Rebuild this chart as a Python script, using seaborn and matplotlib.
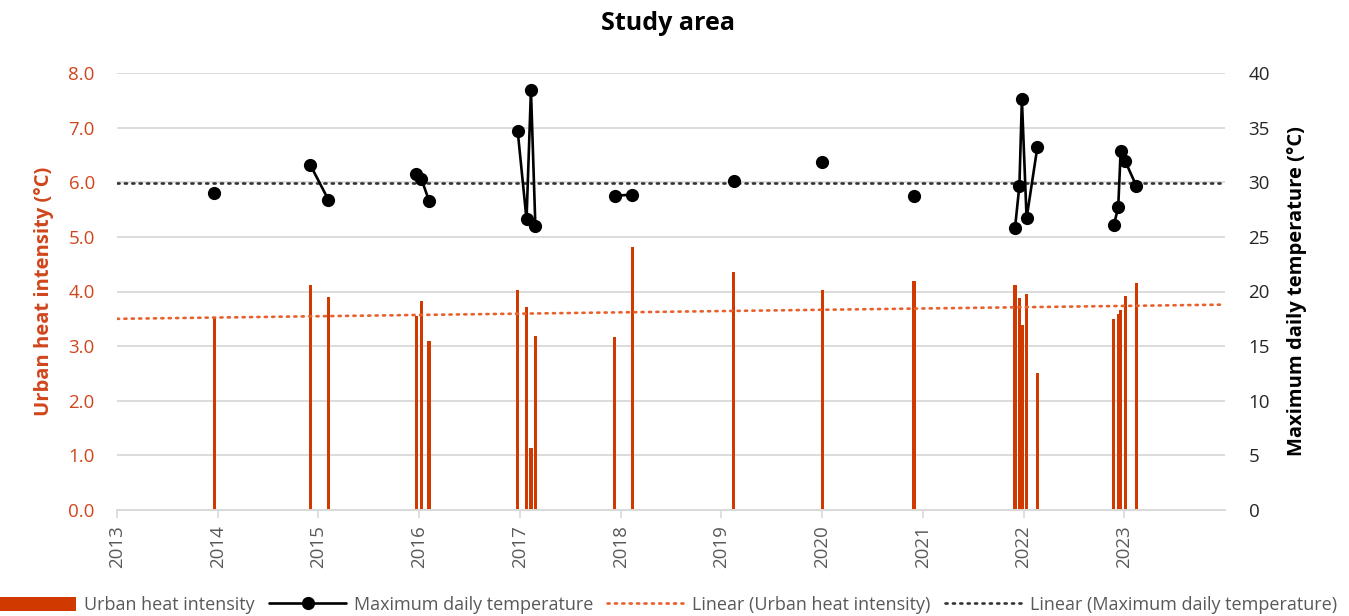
import numpy as np
import pandas as pd
import matplotlib
matplotlib.use("Agg")
import matplotlib.pyplot as plt
import seaborn as sns
from matplotlib.lines import Line2D
from matplotlib.patches import Patch

# ---------------- data ----------------
dates = ["2013-12-19",
         "2014-12-03", "2015-02-06",
         "2015-12-21", "2016-01-09", "2016-02-06",
         "2016-12-24", "2017-01-25", "2017-02-10", "2017-02-26",
         "2017-12-11", "2018-02-12",
         "2019-02-14",
         "2020-01-02",
         "2020-11-30",
         "2021-12-01", "2021-12-17", "2021-12-26", "2022-01-12", "2022-02-20",
         "2022-11-24", "2022-12-10", "2022-12-19", "2023-01-05", "2023-02-13"]
season = [2014, 2015, 2015, 2016, 2016, 2016, 2017, 2017, 2017, 2017,
          2018, 2018, 2019, 2020, 2021, 2022, 2022, 2022, 2022, 2022,
          2023, 2023, 2023, 2023, 2023]
uhi = [3.52, 4.11, 3.90, 3.56, 3.83, 3.10, 4.03, 3.71, 1.13, 3.18,
       3.16, 4.82, 4.35, 4.03, 4.19, 4.12, 3.89, 3.39, 3.96, 2.50,
       3.50, 3.58, 3.67, 3.92, 4.16]
tmax = [29.05, 31.56, 28.40, 30.76, 30.30, 28.30, 34.67, 26.60, 38.45, 26.00,
        28.77, 28.86, 30.13, 31.84, 28.78, 25.80, 29.70, 37.60, 26.70, 33.20,
        26.06, 27.70, 32.90, 31.90, 29.70]
# linear trend lines, at the start and end of the axis
trend_x = [2013, 2024]
trend_uhi = [3.50, 3.76]
trend_tmax = [29.9, 29.9]
year_ticks = list(range(2013, 2025))
left_ticks = [0, 1, 2, 3, 4, 5, 6, 7, 8]
right_ticks = [0, 5, 10, 15, 20, 25, 30, 35, 40]

title = "Study area"
left_label = "Urban heat intensity (°C)"
right_label = "Maximum daily temperature (°C)"
legend_labels = ["Urban heat intensity", "Maximum daily temperature",
                 "Linear (Urban heat intensity)", "Linear (Maximum daily temperature)"]

# ---------------- prep ----------------
dt = pd.to_datetime(pd.Series(dates))
days_in_year = np.where(dt.dt.is_leap_year, 366, 365)
xyear = dt.dt.year + (dt.dt.dayofyear - 1) / days_in_year
df = pd.DataFrame({"x": xyear, "season": season, "uhi": uhi, "tmax": tmax})
trend = pd.DataFrame({"x": trend_x, "uhi": trend_uhi, "tmax": trend_tmax})

ORANGE = "#D03A00"
ORANGE_TXT = "#D0461C"
ORANGE_TREND = "#E8602C"
GRID = "#D9D9D9"
DOT = (0, (0.8, 2.0))

sns.set_theme(style="white")
plt.rcParams["font.family"] = ["Open Sans", "DejaVu Sans"]

fig = plt.figure(figsize=(13.49, 6.16), dpi=100)
ax = fig.add_axes([117 / 1349, 1 - 510 / 616, (1225 - 117) / 1349, (510 - 73) / 616])
ax2 = ax.twinx()

# grid
ax.set_axisbelow(True)
ax.yaxis.grid(True, color=GRID, linewidth=1.3)
ax.xaxis.grid(False)

# bars
ax.bar(df["x"], df["uhi"], width=0.032, color=ORANGE, edgecolor="none",
       linewidth=0, align="center", zorder=2)

# UHI trend
sns.lineplot(data=trend, x="x", y="uhi", ax=ax, color=ORANGE_TREND, linewidth=1.9,
             linestyle=DOT, dash_capstyle="round", zorder=3, legend=False)

# temperature lines (connected within each season)
sns.lineplot(data=df, x="x", y="tmax", units="season", estimator=None,
             color="black", linewidth=1.9, marker="o", markersize=9.5,
             markeredgewidth=0, ax=ax2, legend=False, zorder=4)
sns.lineplot(data=trend, x="x", y="tmax", ax=ax2, color="#333333", linewidth=1.9,
             linestyle=DOT, dash_capstyle="round", zorder=3, legend=False)

# axes setup
ax.set_xlim(year_ticks[0], year_ticks[-1])
ax.set_ylim(0, 8)
ax2.set_ylim(0, 40)
ax.set_xticks(year_ticks[:-1])
ax.set_xticklabels([str(y) for y in year_ticks[:-1]], rotation=90,
                   color="#595959", fontsize=13.5)
ax.set_yticks(left_ticks)
ax.set_yticklabels([f"{v:.1f}" for v in left_ticks], color=ORANGE_TXT, fontsize=13.5)
ax2.set_yticks(right_ticks)
ax2.set_yticklabels([str(v) for v in right_ticks], color="#262626", fontsize=13.5)
ax.tick_params(axis="x", length=6, width=1.2, color=GRID, direction="out", pad=5,
               bottom=True)
ax.tick_params(axis="y", length=0, pad=16)
ax2.tick_params(axis="y", length=0, pad=17)
ax2.set_xlabel("")
ax.set_xlabel("")

for a in (ax, ax2):
    for s in ("top", "left", "right"):
        a.spines[s].set_visible(False)
    a.spines["bottom"].set_color(GRID)
    a.spines["bottom"].set_linewidth(1.3)

ax.set_ylabel(left_label, color=ORANGE_TXT, fontsize=14.5, fontweight="bold")
ax2.set_ylabel(right_label, color="black", fontsize=14.5, fontweight="bold", labelpad=12)
ax.yaxis.set_label_coords(-0.057, 0.5)

fig.text(668 / 1349, 1 - 24 / 616, title, ha="center", va="center",
         fontsize=18, fontweight="bold", color="black")

handles = [
    Patch(facecolor=ORANGE, edgecolor="none"),
    Line2D([], [], color="black", linewidth=1.9, marker="o", markersize=9.5,
           markeredgewidth=0),
    Line2D([], [], color=ORANGE_TREND, linewidth=1.9, linestyle=DOT,
           dash_capstyle="round"),
    Line2D([], [], color="#333333", linewidth=1.9, linestyle=DOT,
           dash_capstyle="round"),
]
leg = fig.legend(handles, legend_labels, loc="center", ncol=4,
                 bbox_to_anchor=(668 / 1349, 1 - 605 / 616), frameon=False,
                 fontsize=13.0, handlelength=4.3, handleheight=0.8,
                 columnspacing=0.8, handletextpad=0.4, numpoints=1,
                 borderpad=0.1, borderaxespad=0.0)
for t in leg.get_texts():
    t.set_color("#595959")

fig.savefig("out.png", dpi=100)
